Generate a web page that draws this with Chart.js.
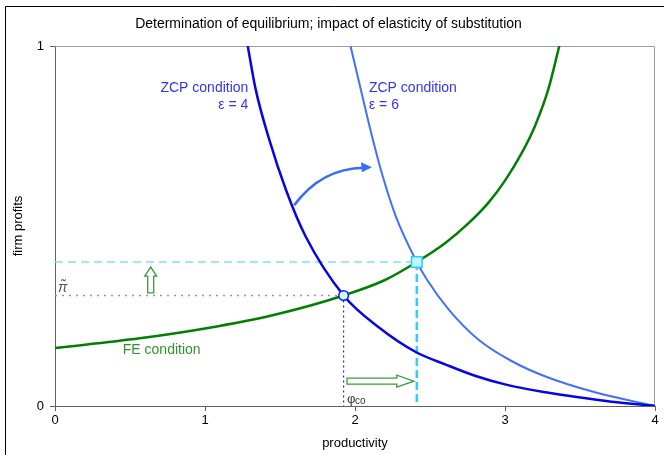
<!DOCTYPE html>
<html><head><meta charset="utf-8">
<script src="https://cdn.jsdelivr.net/npm/chart.js@4/dist/chart.umd.min.js"></script>
<style>html,body{margin:0;padding:0;background:#fff;}canvas{display:block;}</style>
</head><body>
<canvas id="c" width="664" height="455"></canvas>
<script>
// ---- data ----
const xTicks = [0, 1, 2, 3, 4];
const yTicks = [0, 1];
const zcp4X = [1.285, 1.336, 1.429, 1.54, 1.672, 1.924, 2.16, 2.405, 2.605, 2.80, 3.0, 3.27, 3.49, 3.71, 4.0];
const zcp4Y = [1.0, 0.883, 0.739, 0.600, 0.470, 0.307, 0.218, 0.150, 0.115, 0.084, 0.060, 0.038, 0.024, 0.012, 0.0];
const zcp6X = [1.97, 2.04, 2.113, 2.18, 2.272, 2.412, 2.478, 2.625, 2.824, 3.043, 3.27, 3.60, 4.0];
const zcp6Y = [1.0, 0.877, 0.750, 0.645, 0.527, 0.400, 0.352, 0.268, 0.184, 0.125, 0.082, 0.038, 0.0];
const feX = [0, 0.565, 1.01, 1.45, 1.924, 2.2, 2.412, 2.6, 2.75, 2.89, 3.0, 3.112, 3.2, 3.289, 3.362];
const feY = [0.161, 0.188, 0.216, 0.252, 0.307, 0.350, 0.400, 0.452, 0.505, 0.565, 0.626, 0.703, 0.778, 0.880, 1.0];
const eqOld = [1.924, 0.307];   // phi_co, pi-tilde
const eqNew = [2.412, 0.400];

const pts = (xs, ys) => xs.map((x, i) => ({x, y: ys[i]}));
const FONT = "'Liberation Sans', Arial, sans-serif";

const decor = {
  id: 'decor',
  beforeDraw(chart) {
    const ctx = chart.ctx;
    ctx.save();
    ctx.fillStyle = '#fff';
    ctx.fillRect(0, 0, chart.width, chart.height);
    ctx.strokeStyle = '#000';
    ctx.lineWidth = 1;
    ctx.beginPath();
    ctx.moveTo(5.5, chart.height); ctx.lineTo(5.5, 6.5); ctx.lineTo(chart.width, 6.5);
    ctx.stroke();
    ctx.restore();
  },
  beforeDatasetsDraw(chart) {
    const ctx = chart.ctx, a = chart.chartArea;
    ctx.save();
    ctx.strokeStyle = '#a0a0a0';
    ctx.lineWidth = 1;
    ctx.beginPath();
    ctx.moveTo(a.left, a.top + 0.5); ctx.lineTo(a.right - 0.5, a.top + 0.5); ctx.lineTo(a.right - 0.5, a.bottom);
    ctx.stroke();
    ctx.restore();
  },
  afterDatasetsDraw(chart) {
    const ctx = chart.ctx, xs = chart.scales.x, ys = chart.scales.y;
    const X = v => xs.getPixelForValue(v), Y = v => ys.getPixelForValue(v);
    ctx.save();
    // hollow green up arrow
    const ux = X(0.638), ub = Y(0.314), ut = Y(0.386);
    ctx.strokeStyle = '#3c9a3c'; ctx.lineWidth = 1.3; ctx.fillStyle = '#fff';
    ctx.beginPath();
    ctx.moveTo(ux - 3, ub); ctx.lineTo(ux - 3, ut + 9); ctx.lineTo(ux - 6, ut + 9);
    ctx.lineTo(ux, ut); ctx.lineTo(ux + 6, ut + 9); ctx.lineTo(ux + 3, ut + 9); ctx.lineTo(ux + 3, ub);
    ctx.closePath(); ctx.fill(); ctx.stroke();
    // hollow green right arrow
    const rl = X(1.947), rr = X(2.392), ry = Y(0.069);
    ctx.beginPath();
    ctx.moveTo(rl, ry - 3); ctx.lineTo(rr - 17, ry - 3); ctx.lineTo(rr - 17, ry - 6);
    ctx.lineTo(rr, ry); ctx.lineTo(rr - 17, ry + 6); ctx.lineTo(rr - 17, ry + 3); ctx.lineTo(rl, ry + 3);
    ctx.closePath(); ctx.fill(); ctx.stroke();
    // curved blue arrow
    const sx = X(1.595), sy = Y(0.558), cx = X(1.775), cy = Y(0.66), ex = X(2.06), ey = Y(0.662);
    ctx.strokeStyle = '#3a6cf5'; ctx.fillStyle = '#3a6cf5'; ctx.lineWidth = 2.6;
    ctx.beginPath(); ctx.moveTo(sx, sy); ctx.quadraticCurveTo(cx, cy, ex, ey); ctx.stroke();
    const tx = X(2.113), ty = Y(0.663);
    ctx.beginPath(); ctx.moveTo(tx, ty); ctx.lineTo(tx - 11, ty - 5); ctx.lineTo(tx - 10, ty + 5); ctx.closePath(); ctx.fill();
    // labels
    ctx.font = '14px ' + FONT;
    ctx.textBaseline = 'middle';
    ctx.fillStyle = '#3333ff';
    ctx.textAlign = 'right';
    ctx.fillText('ZCP condition', X(1.289), Y(0.883));
    ctx.fillText('\u03b5 = 4', X(1.289), Y(0.836));
    ctx.textAlign = 'left';
    ctx.fillText('ZCP condition', X(2.093), Y(0.883));
    ctx.fillText('\u03b5 = 6', X(2.093), Y(0.836));
    ctx.fillStyle = '#2f922f';
    ctx.fillText('FE condition', X(0.452), Y(0.156));
    ctx.fillStyle = '#555';
    ctx.font = 'italic 14px ' + FONT;
    ctx.fillText('\u03c0\u0303', X(0.02), Y(0.328));
    ctx.fillStyle = '#333';
    ctx.font = '13px ' + FONT;
    ctx.fillText('\u03c6', X(1.947), Y(0.018));
    ctx.font = '10px ' + FONT;
    ctx.fillText('co', X(1.947) + 8, Y(0.012));
    ctx.restore();
  }
};

new Chart(document.getElementById('c'), {
  type: 'line',
  data: {
    datasets: [
      { data: [{x: eqNew[0], y: eqNew[1]}], showLine: false, pointStyle: 'rect', pointRadius: 7.5,
        backgroundColor: '#bff6ff', borderColor: '#33c8ff', pointBorderWidth: 1.5, order: 0 },
      { data: [{x: eqOld[0], y: eqOld[1]}], showLine: false, pointStyle: 'circle', pointRadius: 4.8,
        backgroundColor: '#ccffff', borderColor: '#1010ff', pointBorderWidth: 1.5, order: 1 },
      { data: pts(zcp4X, zcp4Y), borderColor: '#0505e8', borderWidth: 2.5, pointRadius: 0, cubicInterpolationMode: 'monotone', order: 3 },
      { data: pts(zcp6X, zcp6Y), borderColor: '#4170ff', borderWidth: 2, pointRadius: 0, cubicInterpolationMode: 'monotone', order: 4 },
      { data: pts(feX, feY), borderColor: '#007f00', borderWidth: 2.5, pointRadius: 0, cubicInterpolationMode: 'monotone', order: 2 },
      { data: [{x: 0, y: eqNew[1]}, {x: eqNew[0], y: eqNew[1]}], borderColor: '#80e0ff', borderWidth: 1.5, borderDash: [8, 5], pointRadius: 0, order: 6 },
      { data: [{x: eqNew[0], y: eqNew[1]}, {x: eqNew[0], y: 0}], borderColor: '#33ccff', borderWidth: 2.5, borderDash: [8, 4], pointRadius: 0, order: 5 },
      { data: [{x: 0, y: eqOld[1]}, {x: eqOld[0], y: eqOld[1]}], borderColor: '#8a8aff', borderWidth: 1.5, borderDash: [2, 5], pointRadius: 0, order: 7 },
      { data: [{x: eqOld[0], y: eqOld[1]}, {x: eqOld[0], y: 0}], borderColor: '#2020ff', borderWidth: 1.2, borderDash: [2, 3], pointRadius: 0, order: 8 }
    ]
  },
  options: {
    responsive: false,
    animation: false,
    layout: { padding: { left: 0, right: 7, top: 0, bottom: 0 } },
    plugins: {
      legend: { display: false },
      tooltip: { enabled: false },
      title: { display: true, text: 'Determination of equilibrium; impact of elasticity of substitution',
        color: '#000', font: { family: FONT, size: 14, weight: 'normal' }, padding: { top: 15.6, bottom: 13.6 } }
    },
    scales: {
      x: { type: 'linear', min: 0, max: 4,
        afterBuildTicks: s => { s.ticks = xTicks.map(v => ({value: v})); },
        afterFit: s => { s.height = 49; },
        ticks: { color: '#000', font: { family: FONT, size: 13 }, padding: 2 },
        grid: { drawOnChartArea: false, tickLength: 5, color: '#606060' },
        border: { color: '#606060' },
        title: { display: true, text: 'productivity', color: '#000', font: { family: FONT, size: 13 }, padding: { top: 4 } } },
      y: { type: 'linear', min: 0, max: 1,
        afterBuildTicks: s => { s.ticks = yTicks.map(v => ({value: v})); },
        afterFit: s => { s.width = 55; },
        ticks: { color: '#000', font: { family: FONT, size: 13 }, padding: 6 },
        grid: { drawOnChartArea: false, tickLength: 5, color: '#606060' },
        border: { color: '#606060' },
        title: { display: true, text: 'firm profits', color: '#000', font: { family: FONT, size: 13 }, padding: { top: 11, bottom: 0 } } }
    }
  },
  plugins: [decor]
});
</script>
</body></html>
